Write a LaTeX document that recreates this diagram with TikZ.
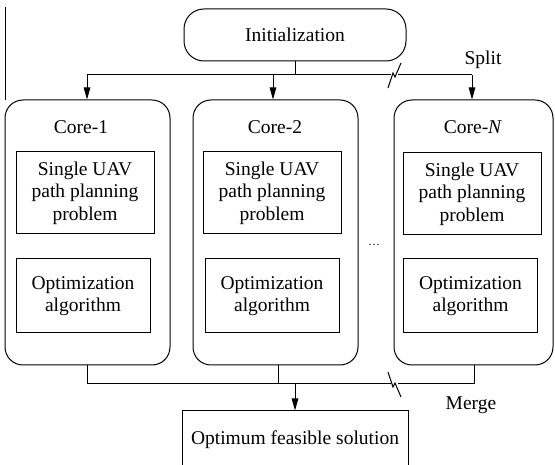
\documentclass[tikz,border=0pt]{standalone}
\usepackage{fontspec}
\setmainfont{Liberation Serif}
\usetikzlibrary{arrows.meta,positioning}
\tikzset{
  flow/.style={-{Triangle[length=12pt,width=6.5pt]}},
}

\begin{document}
\begin{tikzpicture}[x=1pt, y=-1pt, line width=1pt,
  every node/.style={font=\fontsize{19.5}{22.5}\selectfont, align=center, inner sep=0pt},
  core/.style={draw, rounded corners=18pt, minimum width=#1, minimum height=265pt},
  task/.style={draw, minimum width=138pt, minimum height=82pt},
  algo/.style={draw, minimum width=134pt, minimum height=74pt}]
\clip (0,0) rectangle (555,465);
% stray rule on the left
\draw (5,7) -- (5,100);
\node [draw, rounded corners=20pt, minimum width=222pt, minimum height=52pt] (init) at (295,35) {Initialization};
% cores
\node [core=165pt] (core1) at (87.5,232.5) {};
\node [core=165pt] (core2) at (275.5,232.5) {};
\node [core=159pt] (coreN) at (473.5,232.5) {};
\node (lab1) at (81,127) {Core-1};
\node (lab2) at (275,127) {Core-2};
\node (labN) at (473,127) {Core-\textit{N}};
\node [task] (task1) at (85,193) {Single UAV\\path planning\\problem};
\node [task] (task2) at (272,193) {Single UAV\\path planning\\problem};
\node [task] (taskN) at (472,194) {Single UAV\\path planning\\problem};
\node [algo] (algo1) at (83,296) {Optimization\\algorithm};
\node [algo] (algo2) at (272,296) {Optimization\\algorithm};
\node [algo] (algoN) at (470.5,296) {Optimization\\algorithm};
\node [font=\fontsize{12}{14}\selectfont] (dots) at (374,245) {\dots};
\node [draw, minimum width=226pt, minimum height=58pt] (res) at (295,440) {Optimum feasible solution};
% split
\coordinate (s1) at (87,75);
\coordinate (s2) at (273,75);
\coordinate (sN) at (472,75);
\draw (init.south) -- (init.south |- s1);
\draw (s1) -- (391,75);
\draw (398,75) -- (sN);
\draw (388,88) -- (393,73) -- (395,77) -- (401,63);
\draw [flow] (s1) -- (s1 |- core1.north);
\draw [flow] (s2) -- (s2 |- core2.north);
\draw [flow] (sN) -- (sN |- coreN.north);
\node (split) at (483,60) {Split};
% merge
\coordinate (m1) at (87,384);
\coordinate (m2) at (278,384);
\coordinate (mN) at (474,384);
\draw (m1 |- core1.south) -- (m1) -- (391,384);
\draw (398,384) -- (mN) -- (mN |- coreN.south);
\draw (m2 |- core2.south) -- (m2);
\draw (388,372) -- (393,387) -- (395,383) -- (401,397);
\draw [flow] (res.north |- m1) -- (res.north);
\node (merge) at (471,405) {Merge};
\end{tikzpicture}
\end{document}
